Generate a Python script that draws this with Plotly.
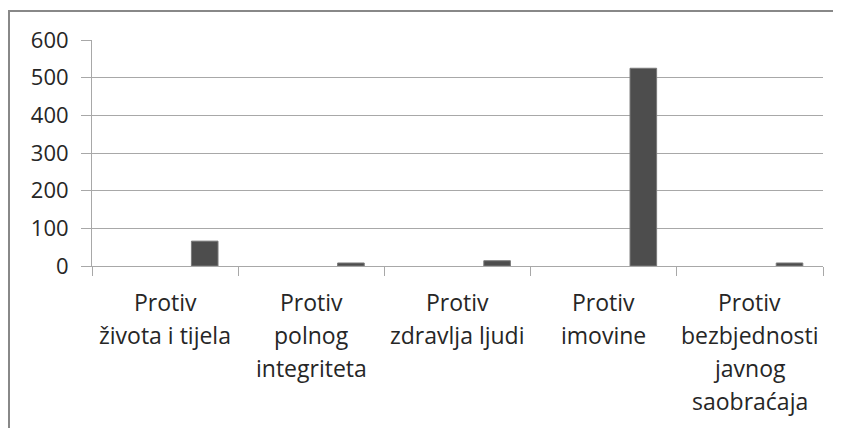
import plotly.graph_objects as go

categories = [
    "Protiv<br>života i tijela",
    "Protiv<br>polnog<br>integriteta",
    "Protiv<br>zdravlja ljudi",
    "Protiv<br>imovine",
    "Protiv<br>bezbjednosti<br>javnog<br>saobraćaja",
]
values = [66, 8, 14, 525, 8]
y_ticks = [0, 100, 200, 300, 400, 500, 600]

# page body has an 8px margin; work in screen coords and shift
OFF = 8
W, H = 841 - OFF, 428 - OFF
L, R, T, B = 92 - OFF, 823 - OFF, 40 - OFF, 266 - OFF
pw, ph = R - L, B - T

def px(x):
    return (x - OFF - L) / pw

def py(y):
    return (B - (y - OFF)) / ph

fig = go.Figure()
fig.add_trace(go.Bar(
    x=categories, y=values,
    offset=0.18, width=0.182,
    marker=dict(color="#4d4d4d", line=dict(color="#7a7a7a", width=1)),
    showlegend=False,
))

grid = "#a8a8a8"
FONT = "Open Sans"
TXT = "#262626"

# category labels: one annotation per text line (Excel-like line spacing)
annotations = []
for cat in categories:
    for i, line in enumerate(cat.split("<br>")):
        annotations.append(dict(
            x=cat, xref="x", y=py(302 + 33 * i), yref="paper",
            text=line, showarrow=False, xanchor="center", yanchor="middle",
            font=dict(family=FONT, size=23, color=TXT),
        ))

fig.update_layout(
    width=W, height=H,
    margin=dict(l=L, r=W - R, t=T, b=H - B, autoexpand=False),
    paper_bgcolor="white", plot_bgcolor="white",
    font=dict(family=FONT, color=TXT),
    annotations=annotations,
    shapes=[
        dict(type="line", xref="paper", yref="paper",
             x0=px(8), x1=px(845), y0=py(11), y1=py(11),
             line=dict(color="#888888", width=2)),
        dict(type="line", xref="paper", yref="paper",
             x0=px(9), x1=px(9), y0=py(10), y1=py(432),
             line=dict(color="#888888", width=2)),
    ],
)
fig.update_xaxes(
    type="category", tickson="boundaries", ticks="outside", ticklen=9,
    tickcolor=grid, showline=True, linecolor=grid, linewidth=1,
    showgrid=False, showticklabels=False, automargin=False,
)
fig.update_yaxes(
    range=[0, 600], tickvals=y_ticks, ticks="outside", ticklen=10,
    tickcolor=grid, showline=True, linecolor=grid, linewidth=1,
    showgrid=True, gridcolor=grid, gridwidth=1, zeroline=False,
    tickfont=dict(size=22, family=FONT, color=TXT),
    ticklabelstandoff=8, automargin=False,
)
fig.write_html("out.html")
